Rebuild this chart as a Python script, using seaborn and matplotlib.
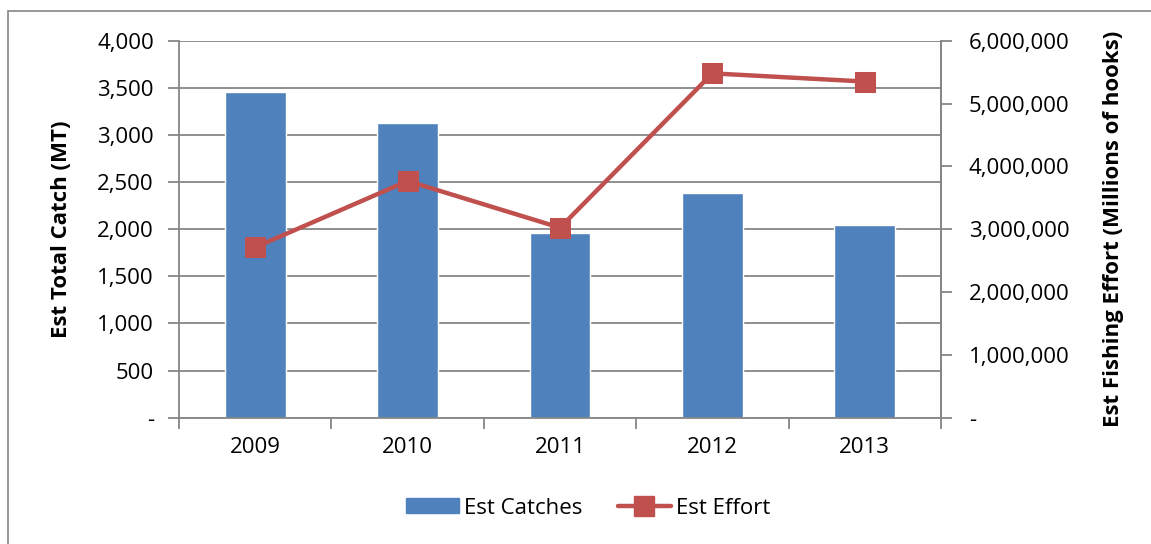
import matplotlib
matplotlib.use("Agg")
import matplotlib.pyplot as plt
from matplotlib.ticker import FuncFormatter, FixedLocator
from matplotlib.lines import Line2D
from matplotlib.patches import Patch, Rectangle
import seaborn as sns
import pandas as pd

# Annual catch and effort estimates
years = ["2009", "2010", "2011", "2012", "2013"]
catches_mt = [3460, 3130, 1955, 2380, 2045]
effort_hooks = [2712000, 3767000, 3024000, 5480000, 5350000]

BLUE = "#4F81BD"
RED = "#C0504D"
GRID = "#868686"

sns.set_theme(style="white")
plt.rcParams["font.family"] = ["Open Sans", "DejaVu Sans"]
plt.rcParams["text.color"] = "black"
plt.rcParams["axes.labelcolor"] = "black"
plt.rcParams["xtick.color"] = "black"
plt.rcParams["ytick.color"] = "black"

df = pd.DataFrame({"Year": years, "Catch": catches_mt, "Effort": effort_hooks})

W, H = 1151, 544
fig = plt.figure(figsize=(W / 100, H / 100), dpi=100)
ax = fig.add_axes([179 / W, 1 - 417.7 / H, (941 - 179) / W, (417.7 - 40.7) / H])

sns.barplot(data=df, x="Year", y="Catch", color=BLUE, width=0.4,
            saturation=1, ax=ax, zorder=2)

ax.set_ylim(0, 4000)
ax.set_xlim(-0.5, 4.5)
ax.yaxis.set_major_locator(FixedLocator(range(0, 4001, 500)))


def fmt_thousands(v, _pos):
    return "-" if v == 0 else f"{v:,.0f}"


ax.yaxis.set_major_formatter(FuncFormatter(fmt_thousands))
ax.grid(axis="y", color=GRID, linewidth=1.3, zorder=0)
ax.set_axisbelow(True)

ax.spines["top"].set_visible(False)
for side in ["left", "bottom", "right"]:
    ax.spines[side].set_color(GRID)
    ax.spines[side].set_linewidth(1.3)

# Category labels centred, tick marks between categories
ax.set_xticks(range(len(years)))
ax.set_xticklabels(years)
ax.xaxis.set_minor_locator(FixedLocator([i - 0.5 for i in range(len(years) + 1)]))
ax.tick_params(axis="x", which="major", length=0, pad=14, labelsize=16)
ax.tick_params(axis="x", which="minor", bottom=True, length=8, width=1.3, color=GRID)
ax.tick_params(axis="y", left=True, length=8, width=1.3, color=GRID, labelsize=16, pad=10)

ax.set_xlabel("")
ax.set_ylabel("Est Total Catch (MT)", fontsize=16, fontweight="bold", labelpad=18)

ax2 = ax.twinx()
sns.lineplot(data=df, x="Year", y="Effort", color=RED, linewidth=3.2,
             marker="s", markersize=14, markeredgecolor=RED, ax=ax2,
             sort=False, zorder=3)
ax2.set_ylim(0, 6000000)
ax2.yaxis.set_major_locator(FixedLocator(range(0, 6000001, 1000000)))
ax2.yaxis.set_major_formatter(FuncFormatter(fmt_thousands))
ax2.tick_params(axis="y", right=True, length=8, width=1.3, color=GRID, labelsize=16, pad=12)
for side in ["top", "left", "bottom"]:
    ax2.spines[side].set_visible(False)
ax2.spines["right"].set_color(GRID)
ax2.spines["right"].set_linewidth(1.3)
ax2.set_ylabel("Est Fishing Effort (Millions of hooks)", fontsize=16,
               fontweight="bold", labelpad=24)
ax2.set_xlim(-0.5, 4.5)
ax2.set_xlabel("")

handles = [
    Patch(facecolor=BLUE, edgecolor=BLUE, label="Est Catches"),
    Line2D([0], [0], color=RED, linewidth=3.2, marker="s", markersize=14,
           label="Est Effort"),
]
fig.legend(handles=handles, loc="center", bbox_to_anchor=(588 / W, 1 - 508 / H),
           ncol=2, frameon=False, fontsize=16, handlelength=2.4,
           handleheight=0.68, columnspacing=1.6, handletextpad=0.2)

# Chart frame
fig.patches.append(Rectangle((8 / W, -0.1), 1.2, 1 - 11 / H + 0.1,
                             transform=fig.transFigure, fill=False,
                             edgecolor=GRID, linewidth=1.2))

fig.savefig("out.png", dpi=100)
